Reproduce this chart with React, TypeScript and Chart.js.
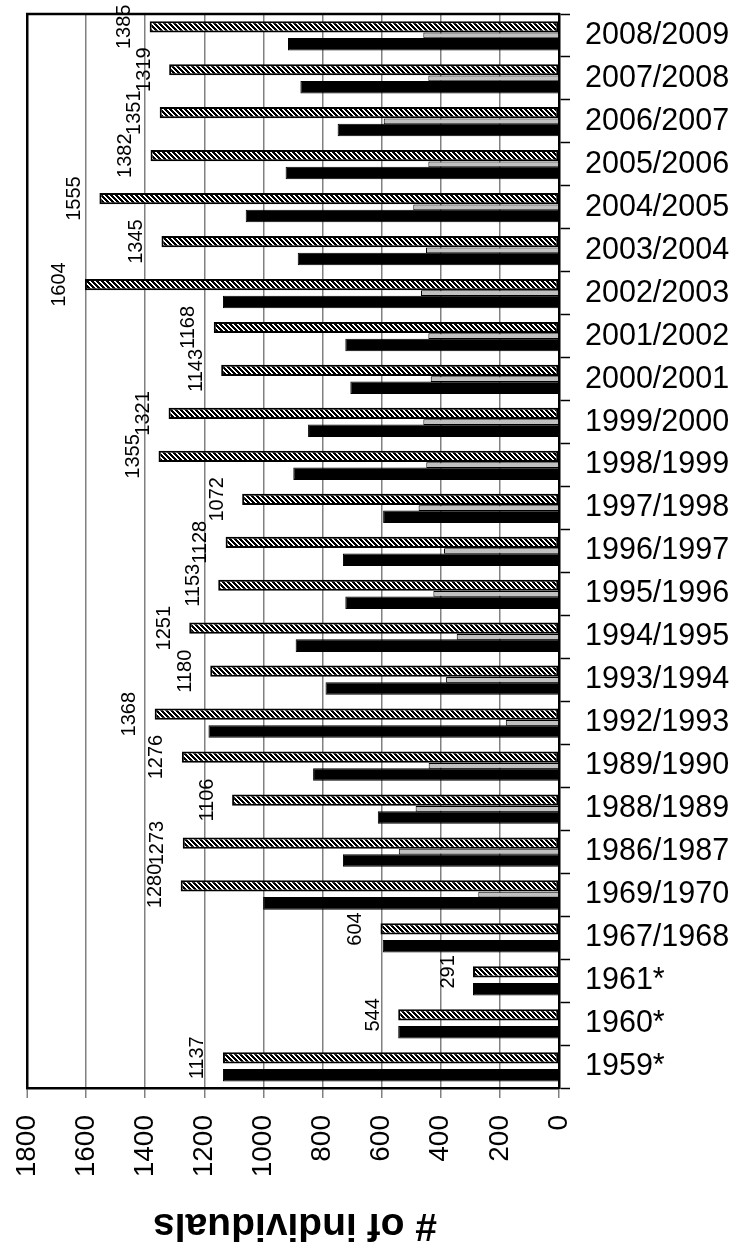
import React, { useEffect, useRef } from "react";
import { Chart, registerables } from "chart.js";

Chart.register(...registerables);

const categories = [
  "1959*", "1960*", "1961*", "1967/1968", "1969/1970", "1986/1987", "1988/1989",
  "1989/1990", "1992/1993", "1993/1994", "1994/1995", "1995/1996", "1996/1997",
  "1997/1998", "1998/1999", "1999/2000", "2000/2001", "2001/2002", "2002/2003",
  "2003/2004", "2004/2005", "2005/2006", "2006/2007", "2007/2008", "2008/2009",
];
const totals = [
  1137, 544, 291, 604, 1280, 1273, 1106, 1276, 1368, 1180, 1251, 1153, 1128,
  1072, 1355, 1321, 1143, 1168, 1604, 1345, 1555, 1382, 1351, 1319, 1385,
];
const greySeries = [
  0, 0, 0, 0, 273, 542, 485, 441, 180, 382, 346, 425, 389,
  475, 449, 459, 434, 442, 467, 450, 493, 442, 593, 442, 459,
];
const blackSeries = [
  1137, 544, 291, 596, 1001, 731, 613, 832, 1186, 790, 891, 723, 731,
  595, 899, 849, 706, 723, 1137, 884, 1060, 925, 749, 875, 917,
];
const valueTicks = [0, 200, 400, 600, 800, 1000, 1200, 1400, 1600, 1800];
const axisTitle = "# of individuals";

const FONT = "'Liberation Sans', Arial, Helvetica, sans-serif";

function makeHatch(): CanvasPattern | string {
  const n = 5;
  const c = document.createElement("canvas");
  c.width = n;
  c.height = n;
  const g = c.getContext("2d");
  if (!g) return "#555";
  g.fillStyle = "#fff";
  g.fillRect(0, 0, n, n);
  for (let y = 0; y < n; y++) {
    for (let x = 0; x < n; x++) {
      const m = (((x - y) % n) + n) % n;
      if (m < 3) {
        g.fillStyle = "#000";
        g.fillRect(x, y, 1, 1);
      }
    }
  }
  const p = g.createPattern(c, "repeat");
  return p || "#555";
}

export default function App() {
  const ref = useRef<HTMLCanvasElement | null>(null);

  useEffect(() => {
    if (!ref.current) return;
    const hatch = makeHatch();

    const labelPlugin = {
      id: "extras",
      afterDatasetsDraw(chart: any) {
        const ctx = chart.ctx;
        const meta = chart.getDatasetMeta(0);
        ctx.save();
        ctx.fillStyle = "#000";
        ctx.font = `20px ${FONT}`;
        ctx.textAlign = "center";
        ctx.textBaseline = "middle";
        meta.data.forEach((bar: any, i: number) => {
          ctx.save();
          ctx.translate(bar.x - 25, bar.y);
          ctx.rotate(-Math.PI / 2);
          ctx.fillText(String(totals[i]), 0, 0);
          ctx.restore();
        });
        ctx.restore();
      },
      afterDraw(chart: any) {
        const { ctx, chartArea } = chart;
        ctx.save();
        ctx.strokeStyle = "#000";
        ctx.lineWidth = 2.5;
        ctx.beginPath();
        ctx.moveTo(chartArea.left - 1, chartArea.top);
        ctx.lineTo(chartArea.right + 1, chartArea.top);
        ctx.stroke();
        ctx.fillStyle = "#000";
        ctx.font = `bold 39px ${FONT}`;
        ctx.textAlign = "center";
        ctx.textBaseline = "middle";
        ctx.translate(295, 1225);
        ctx.rotate(Math.PI);
        ctx.fillText(axisTitle, 0, 0);
        ctx.restore();
      },
    };

    const chart = new Chart(ref.current, {
      type: "bar",
      data: {
        labels: categories,
        datasets: [
          {
            label: "total",
            data: totals,
            backgroundColor: hatch as any,
            borderColor: "#000",
            borderWidth: 2,
            borderSkipped: false,
            barPercentage: 1.29,
            categoryPercentage: 0.6075,
          },
          {
            label: "grey",
            data: greySeries,
            backgroundColor: "#c0c0c0",
            borderColor: "#000",
            borderWidth: 1,
            borderSkipped: "start",
            barPercentage: 0.66,
            categoryPercentage: 0.6075,
          },
          {
            label: "black",
            data: blackSeries,
            backgroundColor: "#000",
            borderColor: "#000",
            borderWidth: 1,
            barPercentage: 1.44,
            categoryPercentage: 0.6075,
          },
        ],
      },
      options: {
        indexAxis: "y",
        animation: false,
        responsive: false,
        devicePixelRatio: 1,
        layout: { padding: { left: 27, top: 14, right: 0, bottom: 0 } },
        plugins: {
          legend: { display: false },
          tooltip: { enabled: false },
          title: { display: false },
        },
        scales: {
          x: {
            type: "linear",
            position: "bottom",
            reverse: true,
            min: 0,
            max: 1800,
            afterBuildTicks(scale: any) {
              scale.ticks = valueTicks.map((v) => ({ value: v }));
            },
            afterFit(scale: any) {
              scale.height = 164;
              scale.paddingLeft = 0;
              scale.paddingRight = 0;
            },
            ticks: {
              color: "#000",
              font: { family: FONT, size: 28 },
              minRotation: 90,
              maxRotation: 90,
              padding: 17,
              autoSkip: false,
              callback: (v: any) => String(v),
            },
            grid: {
              color: (c: any) => (c.tick && c.tick.value === 1800 ? "#000" : "#808080"),
              lineWidth: (c: any) => (c.tick && c.tick.value === 1800 ? 2.5 : 1.5),
              tickColor: "#808080",
              tickLength: 10,
              tickWidth: 1.5,
            },
            border: { display: true, color: "#000", width: 2.5 },
          },
          y: {
            type: "category",
            position: "right",
            reverse: true,
            afterFit(scale: any) {
              scale.width = 179;
              scale.paddingTop = 0;
              scale.paddingBottom = 0;
            },
            ticks: {
              color: "#000",
              font: { family: FONT, size: 30.5 },
              padding: 15,
              autoSkip: false,
            },
            grid: {
              display: true,
              drawOnChartArea: false,
              drawTicks: true,
              offset: true,
              tickLength: 11,
              tickColor: "#000",
              tickWidth: 1.5,
            },
            border: { display: true, color: "#000", width: 2.5 },
          },
        },
      },
      plugins: [labelPlugin],
    } as any);

    return () => chart.destroy();
  }, []);

  return (
    <div style={{ position: "absolute", left: 0, top: 0, width: 738, height: 1252, background: "#fff" }}>
      <canvas ref={ref} width={738} height={1252} style={{ display: "block", width: 738, height: 1252 }} />
    </div>
  );
}
